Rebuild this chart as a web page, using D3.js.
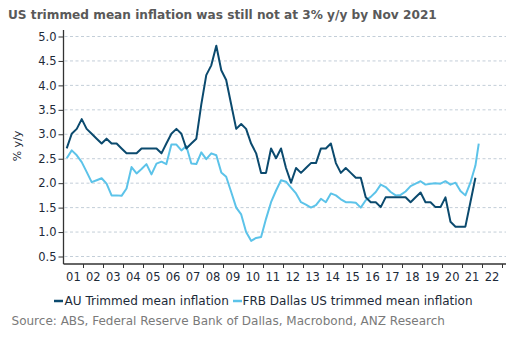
<!DOCTYPE html>
<html><head><meta charset="utf-8">
<script src="https://cdn.jsdelivr.net/npm/d3@7"></script>
<style>body{margin:0;background:#fff}svg{display:block}</style>
</head><body>
<svg id="chart" width="519" height="344"></svg>
<script>
// ---------- data ----------
const titleText = "US trimmed mean inflation was still not at 3% y/y by Nov 2021";
const yAxisTitle = "% y/y";
const sourceText = "Source: ABS, Federal Reserve Bank of Dallas, Macrobond, ANZ Research";
const seriesNames = ["AU Trimmed mean inflation", "FRB Dallas US trimmed mean inflation"];
const yTickValues = [0.5, 1.0, 1.5, 2.0, 2.5, 3.0, 3.5, 4.0, 4.5, 5.0];
const yearLabels = ["01","02","03","04","05","06","07","08","09","10","11","12","13","14","15","16","17","18","19","20","21","22"];
const firstQuarter = "2001-03-01"; // quarterly observations from Mar 2001
const auValues = [
  2.7,3.0,3.1,3.3,3.1,3.0,2.9,2.8,2.9,2.8,
  2.8,2.7,2.6,2.6,2.6,2.7,2.7,2.7,2.7,2.6,
  2.8,3.0,3.1,3.0,2.7,2.8,2.9,3.6,4.2,4.4,
  4.8,4.3,4.1,3.6,3.1,3.2,3.1,2.8,2.6,2.2,
  2.2,2.7,2.5,2.7,2.3,2.0,2.3,2.2,2.3,2.4,
  2.4,2.7,2.7,2.8,2.4,2.2,2.3,2.2,2.1,2.1,
  1.7,1.6,1.6,1.5,1.7,1.7,1.7,1.7,1.7,1.6,
  1.7,1.8,1.6,1.6,1.5,1.5,1.7,1.2,1.1,1.1,
  1.1,1.6,2.1
];
const usValues = [
  2.5,2.66,2.56,2.42,2.22,2.01,2.05,2.09,1.98,1.74,
  1.74,1.73,1.88,2.32,2.19,2.28,2.38,2.17,2.39,2.43,
  2.38,2.78,2.78,2.66,2.75,2.39,2.38,2.62,2.48,2.6,
  2.56,2.21,2.12,1.81,1.49,1.35,0.99,0.81,0.87,0.89,
  1.26,1.6,1.84,2.05,2.02,1.9,1.78,1.6,1.55,1.49,
  1.54,1.67,1.6,1.78,1.74,1.66,1.6,1.6,1.59,1.49,
  1.64,1.71,1.81,1.96,1.91,1.81,1.74,1.75,1.82,1.93,
  1.98,2.03,1.96,1.98,1.99,1.98,2.03,1.96,2.0,1.83,
  1.74,2.0,2.35
];
const usExtraDates = ["2021-11-01"];
const usExtraValues = [2.8];

// ---------- build ----------
const parse = d3.timeParse("%Y-%m-%d");
const q0 = parse(firstQuarter);
const auData = auValues.map((v,i)=>({date:d3.timeMonth.offset(q0, 3*i), value:v}));
const usData = usValues.map((v,i)=>({date:d3.timeMonth.offset(q0, 3*i), value:v}))
  .concat(usExtraDates.map((d,i)=>({date:parse(d), value:usExtraValues[i]})));

const colors = ["#0b4a6e", "#5cc3e9"];
const svg = d3.select("#chart");
const font = "DejaVu Sans, Verdana, sans-serif";

const x = d3.scaleTime().domain([new Date(2001,0,1), new Date(2023,0,1)]).range([63.5, 502]);
const y = d3.scaleLinear().domain([0.5, 5.0]).range([256, 36]);
const axisLeftX = 63.5, axisBottomY = 264, axisTopY = 30, axisRightX = 506;

function fit(sel, target){
  const n = sel.node();
  const w = n.getComputedTextLength();
  const fs = parseFloat(sel.attr("font-size"));
  sel.attr("font-size", (fs*target/w).toFixed(2));
}

// title
const t = svg.append("text").attr("x", 8).attr("y", 19).attr("font-family", font)
  .attr("font-weight", "bold").attr("font-size", 12).attr("fill", "#595959").text(titleText);
fit(t, 429);

// grid
svg.append("g").selectAll("line").data(yTickValues).join("line")
  .attr("x1", axisLeftX+1).attr("x2", axisRightX)
  .attr("y1", d=>y(d)+0.5).attr("y2", d=>y(d)+0.5)
  .attr("stroke", "#c3ced8").attr("stroke-width", 1).attr("stroke-dasharray", "3,2.5");

// y axis
const yAxis = d3.axisLeft(y).tickValues(yTickValues).tickFormat(d3.format(".1f")).tickSize(5).tickPadding(2);
const gy = svg.append("g").attr("transform", `translate(${axisLeftX},0.5)`).call(yAxis);
gy.select(".domain").remove();
gy.selectAll("line").attr("stroke", "#333");
gy.selectAll("text").attr("font-family", font).attr("font-size", 11.5).attr("fill", "#1d2a38");
svg.append("line").attr("x1", axisLeftX).attr("x2", axisLeftX).attr("y1", axisTopY).attr("y2", axisBottomY)
  .attr("stroke", "#333").attr("stroke-width", 1.3);

// x axis
const yearStarts = d3.range(2002, 2024).map(yr=>new Date(yr,0,1));
svg.append("line").attr("x1", axisLeftX).attr("x2", axisRightX).attr("y1", axisBottomY).attr("y2", axisBottomY)
  .attr("stroke", "#333").attr("stroke-width", 1.3);
svg.append("g").selectAll("line").data(yearStarts).join("line")
  .attr("x1", d=>Math.round(x(d))+0.5).attr("x2", d=>Math.round(x(d))+0.5)
  .attr("y1", axisBottomY).attr("y2", axisBottomY+4).attr("stroke", "#333");
svg.append("g").selectAll("text").data(yearLabels).join("text")
  .attr("x", (d,i)=>x(new Date(2001+i,6,2))).attr("y", 281)
  .attr("text-anchor", "middle").attr("font-family", font).attr("font-size", 11.5).attr("fill", "#1d2a38")
  .text(d=>d);

// y axis title
svg.append("text").attr("transform", "translate(21,146) rotate(-90)").attr("text-anchor", "middle")
  .attr("font-family", font).attr("font-size", 11).attr("fill", "#1d2a38").text(yAxisTitle);

// lines
const line = d3.line().x(d=>x(d.date)).y(d=>y(d.value));
svg.append("path").datum(usData).attr("d", line).attr("fill", "none")
  .attr("stroke", colors[1]).attr("stroke-width", 2).attr("stroke-linejoin", "round");
svg.append("path").datum(auData).attr("d", line).attr("fill", "none")
  .attr("stroke", colors[0]).attr("stroke-width", 2).attr("stroke-linejoin", "round");

// legend
const legendItems = [
  {name: seriesNames[0], color: colors[0], sx: 54, tx: 64.5, w: 164.5},
  {name: seriesNames[1], color: colors[1], sx: 233, tx: 242.5, w: 230}
];
legendItems.forEach(it=>{
  svg.append("line").attr("x1", it.sx).attr("x2", it.sx+9).attr("y1", 301).attr("y2", 301)
    .attr("stroke", it.color).attr("stroke-width", 2.5);
  const lt = svg.append("text").attr("x", it.tx).attr("y", 305).attr("font-family", font)
    .attr("font-size", 11.5).attr("fill", "#1d2a38").text(it.name);
  fit(lt, it.w);
});

// source
const st = svg.append("text").attr("x", 11.5).attr("y", 325).attr("font-family", font)
  .attr("font-size", 11.5).attr("fill", "#7a7a7a").text(sourceText);
fit(st, 434);
</script>
</body></html>
